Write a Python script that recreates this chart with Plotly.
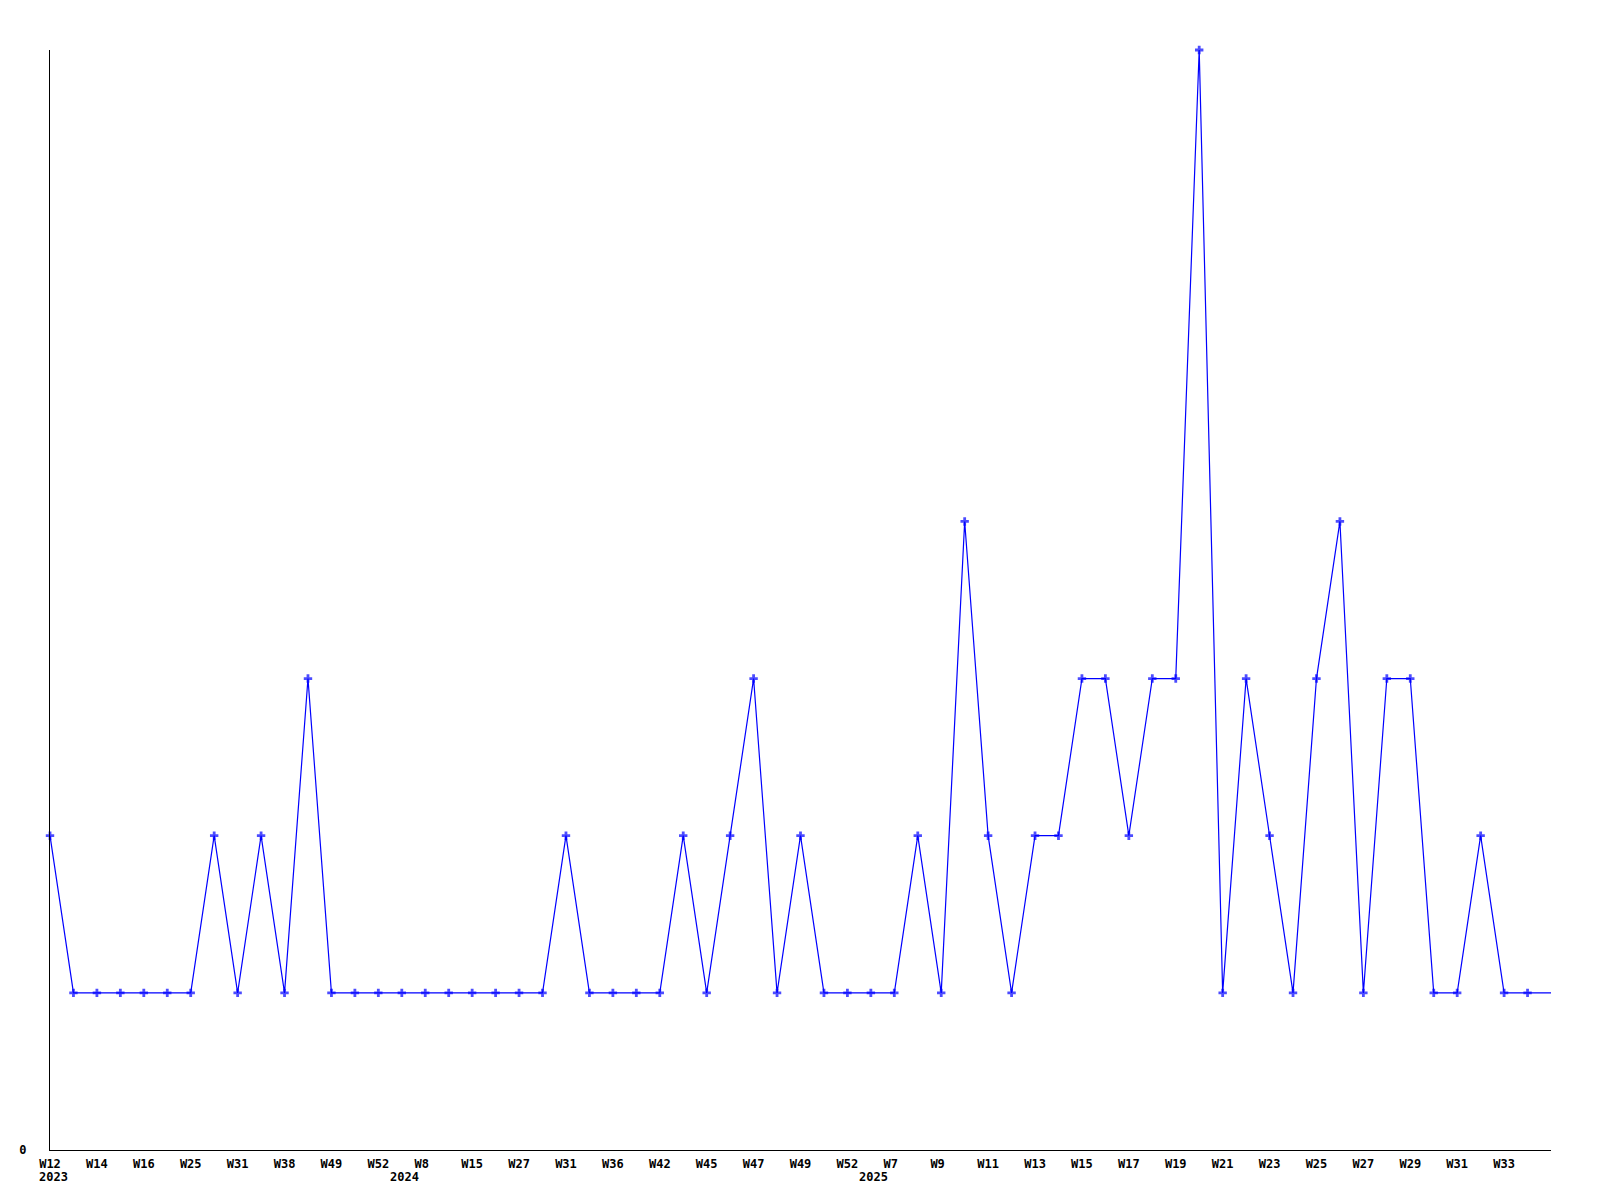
import plotly.graph_objects as go

# Week categories (every other one is labelled in the reference; unlabelled ones are estimated)
weeks = ["W12", "W13", "W14", "W15", "W16", "W24", "W25", "W30", "W31", "W35",
         "W38", "W40", "W49", "W51", "W52", "W1", "W8", "W10", "W15", "W20",
         "W27", "W30", "W31", "W33", "W36", "W40", "W42", "W44", "W45", "W46",
         "W47", "W48", "W49", "W51", "W52", "W1", "W7", "W8", "W9", "W10",
         "W11", "W12", "W13", "W14", "W15", "W16", "W17", "W18", "W19", "W20",
         "W21", "W22", "W23", "W24", "W25", "W26", "W27", "W28", "W29", "W30",
         "W31", "W32", "W33", "W34", "W35"]
years = [2023] * 15 + [2024] * 20 + [2025] * 30
values = [2, 1, 1, 1, 1, 1, 1, 2, 1, 2,
          1, 3, 1, 1, 1, 1, 1, 1, 1, 1,
          1, 1, 2, 1, 1, 1, 1, 2, 1, 2,
          3, 1, 2, 1, 1, 1, 1, 2, 1, 4,
          2, 1, 2, 2, 3, 3, 2, 3, 3, 7,
          1, 3, 2, 1, 3, 4, 1, 3, 3, 1,
          1, 2, 1, 1, 1]

xs = list(range(len(weeks)))
marker_sizes = [7] * (len(weeks) - 1) + [0]

FONT = dict(family="DejaVu Sans Mono", size=12, color="black", weight="bold")

fig = go.Figure()
fig.add_trace(go.Scatter(
    x=xs, y=values, mode="lines+markers",
    line=dict(color="#0000ff", width=1.2),
    marker=dict(symbol="cross", size=marker_sizes, color="#0000ff",
                line=dict(width=0)),
    hoverinfo="skip", showlegend=False, cliponaxis=False,
))

tick_idx = [i for i in xs if i % 2 == 0 and i < len(weeks) - 1]
tick_txt = [weeks[i] + "\u00a0" * (3 - len(weeks[i])) for i in tick_idx]

# Year labels at the first week of each year
for i, yr in enumerate(years):
    if i == 0 or years[i - 1] != yr:
        fig.add_annotation(x=i, y=0, xref="x", yref="paper", text=str(yr),
                           showarrow=False, xanchor="center", yanchor="middle",
                           yshift=-26.5, xshift=3, font=FONT)

fig.update_layout(
    width=1600, height=1200,
    margin=dict(l=42, r=57, t=42, b=58, pad=0),
    paper_bgcolor="white", plot_bgcolor="white",
    font=FONT,
)
fig.update_xaxes(
    range=[0, len(weeks) - 1], tickmode="array", tickvals=tick_idx, ticktext=tick_txt,
    showgrid=False, zeroline=False, showline=True, linecolor="black", linewidth=1,
    ticks="", tickfont=FONT, ticklabelstandoff=3,
)
fig.update_yaxes(
    range=[0, 7], tickmode="array", tickvals=[0], ticktext=["0"],
    showgrid=False, zeroline=False, showline=True, linecolor="black", linewidth=1,
    ticks="", tickfont=FONT, ticklabelstandoff=20,
)

fig.write_html("out.html")
